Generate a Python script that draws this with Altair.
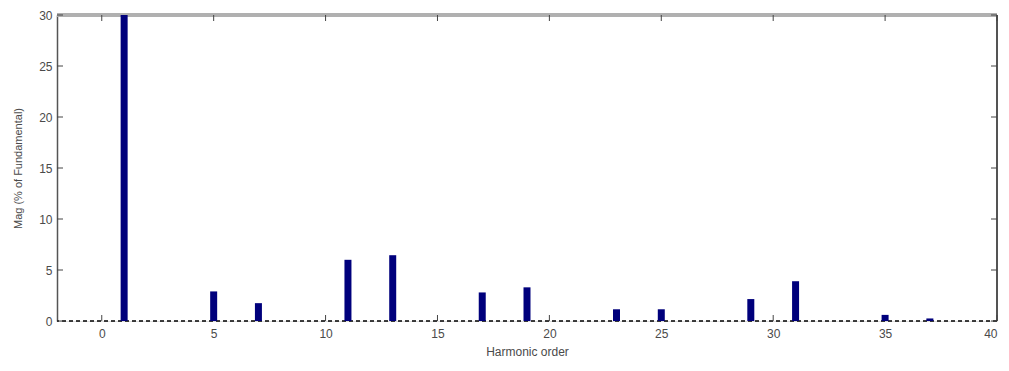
import altair as alt
import pandas as pd

harmonics = [1, 5, 7, 11, 13, 17, 19, 23, 25, 29, 31, 35, 37]
magnitudes = [100, 2.9, 1.75, 6.0, 6.45, 2.8, 3.3, 1.15, 1.15, 2.15, 3.9, 0.6, 0.25]
x_ticks = [0, 5, 10, 15, 20, 25, 30, 35, 40]
y_ticks = [0, 5, 10, 15, 20, 25, 30]

W, H = 940, 306

bars_df = pd.DataFrame({"h": harmonics, "m": magnitudes})
xt_df = pd.DataFrame({"t": x_ticks})
yt_df = pd.DataFrame({"t": y_ticks})

xscale = alt.Scale(domain=[-2, 40], nice=False, zero=False, padding=0)
yscale = alt.Scale(domain=[0, 30], nice=False, padding=0)

FONT = "Liberation Sans"
TXT = "#4a4a4a"

bars = alt.Chart(bars_df).mark_bar(color="#00007c", size=7, clip=True).encode(
    x=alt.X("h:Q", scale=xscale, title="Harmonic order",
            axis=alt.Axis(values=x_ticks, grid=False, ticks=False, domain=False,
                          labelFontSize=12, labelColor=TXT, labelFont=FONT, labelPadding=7,
                          titleFontSize=12, titleColor=TXT, titleFont=FONT, titleFontWeight="normal",
                          titlePadding=7)),
    y=alt.Y("m:Q", scale=yscale, title="Mag (% of Fundamental)",
            axis=alt.Axis(values=y_ticks, grid=False, ticks=False, domain=True,
                          domainColor="#555", domainWidth=1.5,
                          labelFontSize=12, labelColor=TXT, labelFont=FONT, labelPadding=5,
                          titleFontSize=11, titleColor=TXT, titleFont=FONT, titleFontWeight="normal",
                          titlePadding=15)),
)

baseline = alt.Chart(pd.DataFrame({"z": [0]})).mark_rule(
    color="black", strokeDash=[4, 3], strokeWidth=1.5
).encode(y=alt.Y("z:Q", scale=yscale))

tick_color = "#444"
bottom_ticks = alt.Chart(xt_df).mark_rule(color=tick_color).encode(
    x=alt.X("t:Q", scale=xscale), y=alt.value(H), y2=alt.value(H - 6))
top_ticks = alt.Chart(xt_df).mark_rule(color=tick_color).encode(
    x=alt.X("t:Q", scale=xscale), y=alt.value(0), y2=alt.value(6))
left_ticks = alt.Chart(yt_df).mark_rule(color=tick_color).encode(
    y=alt.Y("t:Q", scale=yscale), x=alt.value(0), x2=alt.value(6))
right_ticks = alt.Chart(yt_df).mark_rule(color=tick_color).encode(
    y=alt.Y("t:Q", scale=yscale), x=alt.value(W), x2=alt.value(W - 6))

right_border = alt.Chart(xt_df).mark_rule(color="#555", strokeWidth=1.5).encode(
    x=alt.value(W), y=alt.value(0), y2=alt.value(H))
top_border = alt.Chart(xt_df).mark_rule(color="#b0b0b0", strokeWidth=3).encode(
    x=alt.value(0), x2=alt.value(W), y=alt.value(0))

chart = alt.layer(
    top_border, right_border, baseline, bottom_ticks, top_ticks, left_ticks, right_ticks, bars
).properties(
    width=W, height=H,
    autosize=alt.AutoSizeParams(type="none"),
    padding={"left": 49, "top": 7, "right": 4, "bottom": 40},
).configure_view(stroke=None).configure(background="white")

chart.save("out.html", embed_options={"renderer": "svg", "actions": False})
